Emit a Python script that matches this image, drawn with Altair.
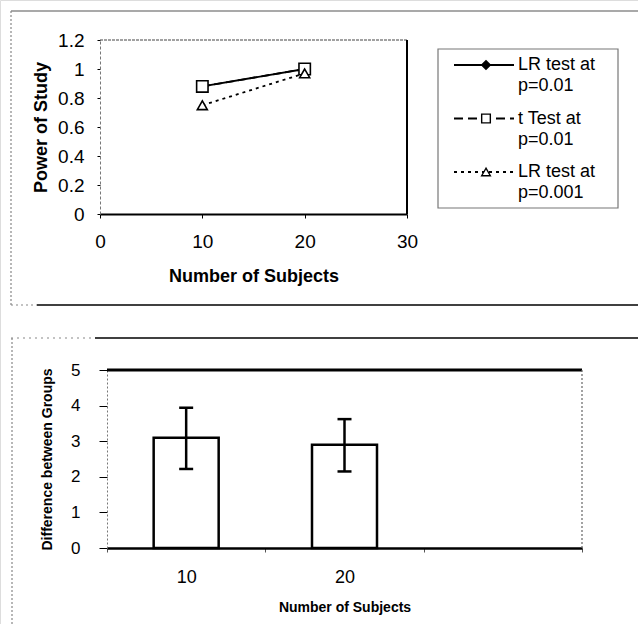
import altair as alt
import pandas as pd

FONT = "Liberation Sans"

# ---------------- data ----------------
subjects = [10, 20]
lr_01 = [0.88, 1.0]
t_01 = [0.88, 1.0]
lr_001 = [0.75, 0.97]
series_names = ["LR test at p=0.01", "t Test at p=0.01", "LR test at p=0.001"]
legend_line1 = ["LR test at", "t Test at", "LR test at"]
legend_line2 = ["p=0.01", "p=0.01", "p=0.001"]
x_ticks_top = [0, 10, 20, 30]
y_ticks_top = [0, 0.2, 0.4, 0.6, 0.8, 1, 1.2]

groups = ["10", "20"]
group_domain = ["10", "20", " "]
diff_mean = [3.1, 2.9]
diff_low = [2.22, 2.15]
diff_high = [3.94, 3.62]
y_ticks_bot = [0, 1, 2, 3, 4, 5]

rows = []
for name, vals in zip(series_names, [lr_01, t_01, lr_001]):
    for n, v in zip(subjects, vals):
        rows.append({"n": n, "power": v, "series": name})
df_top = pd.DataFrame(rows)
df_bot = pd.DataFrame({"group": groups, "mean": diff_mean, "low": diff_low, "high": diff_high})
df_leg = pd.DataFrame({"series": series_names, "l1": legend_line1, "l2": legend_line2})

# ---------------- top panel ----------------
x_top = alt.X("n:Q",
    scale=alt.Scale(domain=[0, 30], range=[100, 407], nice=False, zero=False),
    axis=alt.Axis(orient="bottom", offset=-410, values=x_ticks_top, grid=False,
                  title="Number of Subjects", titleFont=FONT, titleFontSize=18,
                  titleFontWeight="bold", titleColor="black", titlePadding=16,
                  labelFont=FONT, labelFontSize=19, labelColor="black", labelPadding=14,
                  labelFlush=False, labelOverlap=False, tickSize=4, tickColor="black",
                  domainColor="black", domainWidth=2))
y_top = alt.Y("power:Q",
    scale=alt.Scale(domain=[0, 1.2], range=[214, 40], nice=False),
    axis=alt.Axis(orient="left", offset=-100, values=y_ticks_top, format="~g", grid=False,
                  title="Power of Study", titleFont=FONT, titleFontSize=18,
                  titleFontWeight="bold", titleColor="black", titlePadding=7,
                  labelFont=FONT, labelFontSize=19, labelColor="black", labelPadding=13,
                  labelFlush=False, labelOverlap=False, tickSize=3, tickColor="black",
                  domainColor="#777777", domainDash=[3, 2], domainWidth=1))

base_top = alt.Chart(df_top)
styles = [
    (series_names[0], None, "diamond", "black", 60),
    (series_names[1], [8, 4], "square", "white", 130),
    (series_names[2], [3, 4], "triangle-up", "white", 100),
]
top_layers = []
for name, dash, shape, fill, size in styles:
    d = base_top.transform_filter(alt.datum.series == name)
    lk = dict(color="black", strokeWidth=1.8)
    if dash:
        lk["strokeDash"] = dash
    top_layers.append(d.mark_line(**lk).encode(x=x_top, y=y_top))
for name, dash, shape, fill, size in styles:
    d = base_top.transform_filter(alt.datum.series == name)
    top_layers.append(d.mark_point(shape=shape, filled=True, fill=fill, stroke="black",
                                   strokeWidth=1.6, size=size, opacity=1)
                      .encode(x=x_top, y=y_top))
top = alt.layer(*top_layers)

# ---------------- bottom panel ----------------
yscale_b = alt.Scale(domain=[0, 5], range=[548, 370], nice=False)
yaxis_b = alt.Axis(orient="left", offset=-107, values=y_ticks_bot, grid=False,
                   title="Difference between Groups", titleFont=FONT, titleFontSize=14,
                   titleFontWeight="bold", titleColor="black", titlePadding=16,
                   labelFont=FONT, labelFontSize=17, labelColor="black", labelPadding=19,
                   labelFlush=False, labelOverlap=False, tickSize=8, tickColor="black",
                   domainColor="#777777", domainDash=[2, 2], domainWidth=1)
x_bot = alt.X("group:N",
    scale=alt.Scale(domain=group_domain, range=[107, 582], paddingInner=0, paddingOuter=0),
    axis=alt.Axis(orient="bottom", offset=-76, tickBand="extent", labelAngle=0, grid=False,
                  title="Number of Subjects", titleFont=FONT, titleFontSize=14,
                  titleFontWeight="bold", titleColor="black", titlePadding=14,
                  labelFont=FONT, labelFontSize=18, labelColor="black", labelPadding=16,
                  tickSize=4, tickColor="#555555",
                  domainColor="black", domainWidth=2.5))
base_bot = alt.Chart(df_bot)
bars = base_bot.mark_bar(size=65, fill="white", stroke="black", strokeWidth=2.5).encode(
    x=x_bot, y=alt.Y("mean:Q", scale=yscale_b, axis=yaxis_b))
err = base_bot.mark_rule(color="black", strokeWidth=2.5).encode(
    x=x_bot, y=alt.Y("low:Q", scale=yscale_b, axis=yaxis_b), y2="high:Q")
cap_lo = base_bot.mark_tick(color="black", thickness=2.5, size=14, opacity=1).encode(
    x=x_bot, y=alt.Y("low:Q", scale=yscale_b, axis=yaxis_b))
cap_hi = base_bot.mark_tick(color="black", thickness=2.5, size=14, opacity=1).encode(
    x=x_bot, y=alt.Y("high:Q", scale=yscale_b, axis=yaxis_b))
bottom = alt.layer(bars, err, cap_lo, cap_hi)

# ---------------- legend ----------------
yl = alt.Y("series:N", scale=alt.Scale(type="point", domain=series_names, range=[65, 172], padding=0), axis=None)
base_leg = alt.Chart(df_leg)
leg_lines = base_leg.mark_rule(color="black", strokeWidth=1.8).encode(
    y=yl, x=alt.value(454), x2=alt.value(514),
    strokeDash=alt.StrokeDash("series:N", scale=alt.Scale(domain=series_names, range=[[1, 0], [9, 5], [3, 4]]), legend=None))
leg_pts = base_leg.mark_point(filled=True, stroke="black", strokeWidth=1.4, size=75, opacity=1).encode(
    y=yl, x=alt.value(486),
    shape=alt.Shape("series:N", scale=alt.Scale(domain=series_names, range=["diamond", "square", "triangle-up"]), legend=None),
    fill=alt.Fill("series:N", scale=alt.Scale(domain=series_names, range=["black", "white", "white"]), legend=None))
leg_t1 = base_leg.mark_text(align="left", baseline="middle", font=FONT, fontSize=18, color="black").encode(
    y=yl, x=alt.value(518), text="l1:N")
leg_t2 = base_leg.mark_text(align="left", baseline="middle", font=FONT, fontSize=18, color="black", dy=21).encode(
    y=yl, x=alt.value(518), text="l2:N")
legend = alt.layer(leg_lines, leg_pts, leg_t1, leg_t2)

# ---------------- frames / borders ----------------
one = alt.Data(values=[{"k": 1}])
def hrule(x1, x2, y, color, w, dash=None):
    kw = dict(color=color, strokeWidth=w)
    if dash:
        kw["strokeDash"] = dash
    return alt.Chart(one).mark_rule(**kw).encode(x=alt.value(x1), x2=alt.value(x2), y=alt.value(y))
def vrule(x, y1, y2, color, w, dash=None):
    kw = dict(color=color, strokeWidth=w)
    if dash:
        kw["strokeDash"] = dash
    return alt.Chart(one).mark_rule(**kw).encode(x=alt.value(x), y=alt.value(y1), y2=alt.value(y2))

box = alt.Chart(one).mark_rect(fill="transparent", stroke="#777777", strokeWidth=1.2).encode(
    x=alt.value(438), x2=alt.value(618), y=alt.value(49), y2=alt.value(208))

frames = [
    hrule(11, 638, 11, "#555555", 1.2),
    vrule(11, 11, 305, "#888888", 1.2, [2, 2]),
    hrule(11, 37, 305, "#888888", 1.2, [2, 3]),
    hrule(37, 638, 305, "black", 1.6),
    hrule(11, 95, 338, "#888888", 1.2, [2, 4]),
    hrule(95, 638, 338, "black", 1.6),
    vrule(12, 338, 624, "#888888", 1.2, [2, 2]),
    # top plot borders
    hrule(100, 407, 40, "#444444", 1.2, [3, 1]),
    vrule(407, 40, 214, "black", 2),
    # bottom plot borders
    hrule(107, 582, 370, "black", 3),
    vrule(582, 370, 548, "#666666", 1.2, [2, 2]),
    box,
]

chart = alt.layer(top, bottom, legend, *frames).resolve_scale(
    x="independent", y="independent"
).properties(
    width=638, height=624, padding=0,
    autosize=alt.AutoSizeParams(type="none"),
).configure_view(stroke=None).configure(background="white")

chart.save("out.html", embed_options={"renderer": "svg", "actions": False})
